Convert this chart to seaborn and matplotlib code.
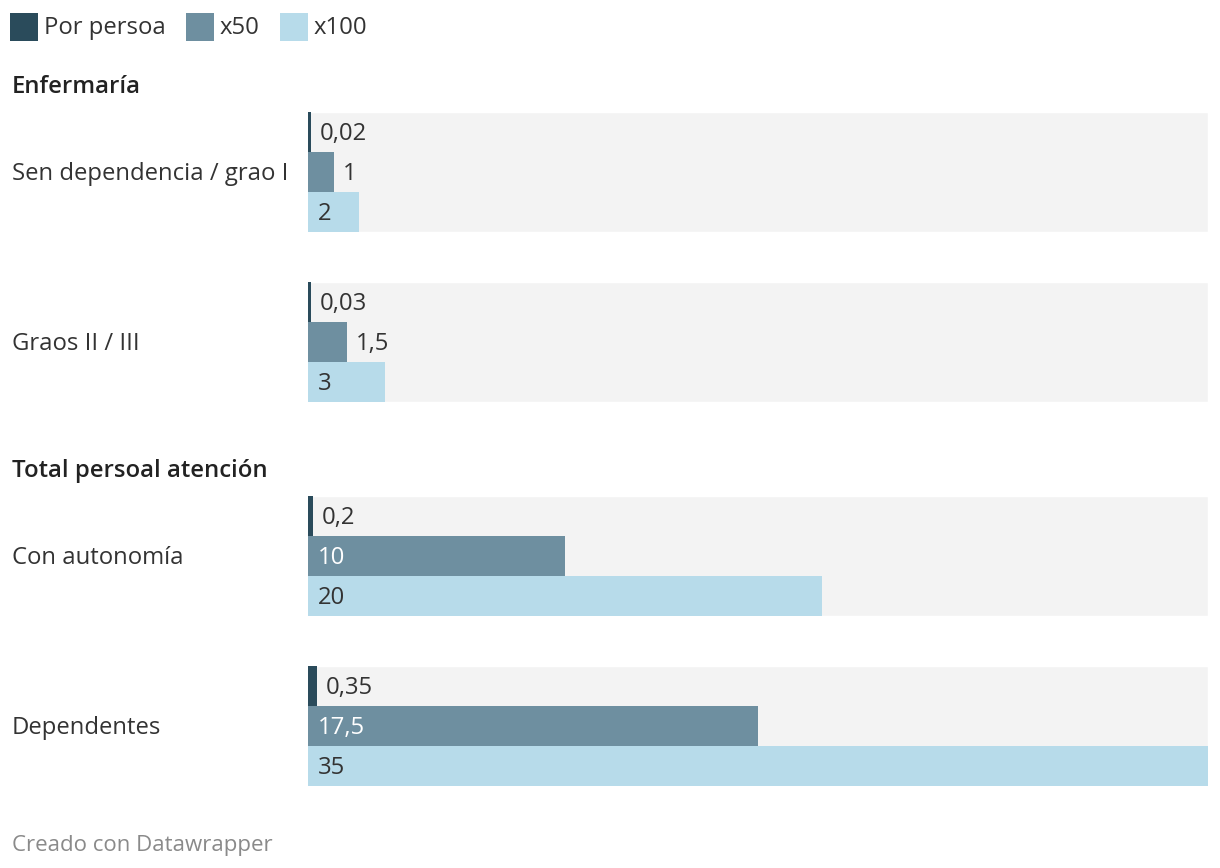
import matplotlib
matplotlib.use("Agg")
import matplotlib.pyplot as plt
from matplotlib.patches import Rectangle
import seaborn as sns
import pandas as pd

# data
series = ["Por persoa", "x50", "x100"]
colors = ["#2a4b5b", "#6e8fa0", "#b7dbea"]
sections = ["Enfermaría", "Total persoal atención"]
categories = ["Sen dependencia / grao I", "Graos II / III", "Con autonomía", "Dependentes"]
por_persoa = [0.02, 0.03, 0.2, 0.35]
x50 = [1, 1.5, 10, 17.5]
x100 = [2, 3, 20, 35]
value_labels = [["0,02", "1", "2"], ["0,03", "1,5", "3"],
                ["0,2", "10", "20"], ["0,35", "17,5", "35"]]

sns.set_theme(style="white")
plt.rcParams["font.family"] = ["Open Sans", "DejaVu Sans"]

W, H = 1220, 868
fig = plt.figure(figsize=(W / 100, H / 100), dpi=100)
TXT = "#333333"
FS = 17.2

def fy(py):
    return 1 - py / H

# layout in pixels
bar_left, bar_width, grp_h = 308, 900, 120
grp_tops = [112, 282, 496, 666]
hdr_y = [87, 471]
xmax = max(x100)

df = pd.DataFrame({
    "cat": [c for c in categories for _ in series],
    "series": series * len(categories),
    "value": [v for trio in zip(por_persoa, x50, x100) for v in trio],
})

for i, cat in enumerate(categories):
    top = grp_tops[i]
    ax = fig.add_axes([bar_left / W, fy(top + grp_h), bar_width / W, grp_h / H])
    ax.set_facecolor("#f3f3f3")
    sub = df[df["cat"] == cat]
    sns.barplot(data=sub, x="value", y="series", hue="series", order=series,
                hue_order=series, palette=colors, width=1, orient="h",
                legend=False, saturation=1, linewidth=0, ax=ax)
    # very small bars get a minimum visible width, like the original
    for bar in ax.patches:
        if bar.get_width() < xmax * 2.5 / bar_width:
            bar.set_width(xmax * 2.5 / bar_width)
    ax.set_xlim(0, xmax)
    ax.set_ylim(2.5, -0.5)
    ax.set_axis_off()
    ax.add_patch(Rectangle((0, 0), 1, 1, transform=ax.transAxes,
                           facecolor="#f3f3f3", zorder=-1))
    for j, val in enumerate(sub["value"]):
        bar_px = val / xmax * bar_width
        lab = value_labels[i][j]
        if bar_px > 45:
            col = "white" if j == 1 else TXT
            ax.annotate(lab, (0, j), xytext=(10, -2), textcoords="offset pixels",
                        va="center", ha="left", color=col, fontsize=FS)
        else:
            ax.annotate(lab, (max(val, xmax * 2.5 / bar_width), j), xytext=(9, -2),
                        textcoords="offset pixels",
                        va="center", ha="left", color=TXT, fontsize=FS)
    fig.text(12 / W, fy(top + grp_h / 2 + 2), cat, ha="left", va="center",
             color=TXT, fontsize=FS)

for s, y in zip(sections, hdr_y):
    fig.text(12 / W, fy(y), s, ha="left", va="center", color="#222222",
             fontsize=FS, fontweight="semibold")

# legend
renderer = fig.canvas.get_renderer()
x = 10
for name, col in zip(series, colors):
    fig.patches.append(Rectangle((x / W, fy(41)), 28 / W, 28 / H,
                                 transform=fig.transFigure, facecolor=col,
                                 edgecolor="none"))
    t = fig.text((x + 34) / W, fy(28), name, ha="left", va="center",
                 color=TXT, fontsize=FS)
    tw = t.get_window_extent(renderer).width
    x = x + 34 + tw + 20

fig.text(12 / W, fy(845), "Creado con Datawrapper", ha="left", va="center",
         color="#8a8a8a", fontsize=16)

fig.savefig("out.png", dpi=100)
